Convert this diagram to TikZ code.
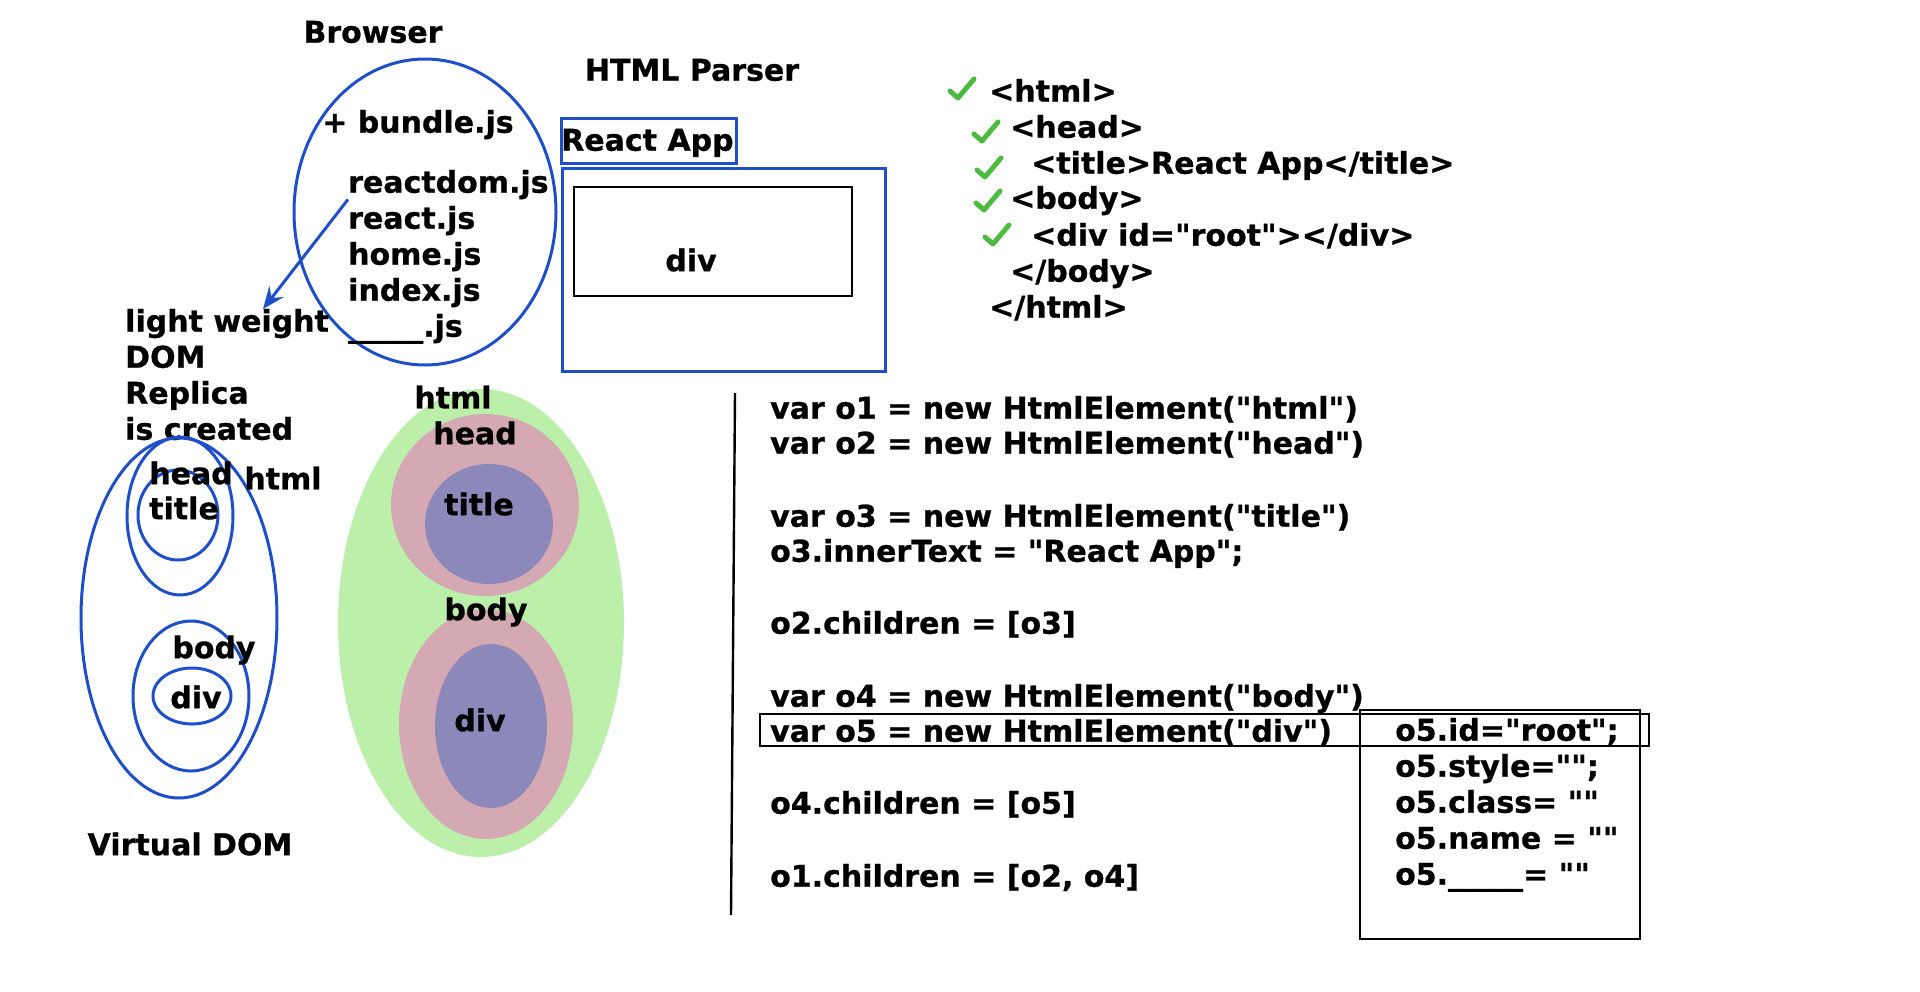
\documentclass[tikz,border=0pt]{standalone}
\usepackage{fontspec}
\setmainfont{DejaVu Sans}[Ligatures=TeXOff, BoldFeatures={FakeBold=0.8}]
\usetikzlibrary{positioning,arrows.meta}

\definecolor{penblue}{RGB}{30,78,200}
\definecolor{tickgreen}{RGB}{76,187,63}
\definecolor{leafgreen}{RGB}{187,239,170}
\definecolor{rosepink}{RGB}{212,169,179}
\definecolor{lavender}{RGB}{140,137,186}

\tikzset{
  lbl/.style={font=\fontsize{30}{36}\selectfont\bfseries, inner sep=0pt},
  pen/.style={draw=penblue, line width=3pt},
  ink/.style={draw=black, line width=2.8pt},
  okmark/.pic={\draw[tickgreen, line width=5pt, line cap=round, line join=round]
    (-12,3) -- (-4,10) -- (12,-9);},
}

\begin{document}
\begin{tikzpicture}[x=1pt, y=-1pt]
  \useasboundingbox (0,0) rectangle (1920,991);

  % browser and bundle
  \node[lbl] (browser) at (373,32) {Browser};
  \draw[pen] (425,212) ellipse [x radius=131, y radius=153];
  \node[lbl, anchor=mid west] (bundle) at (322,130) {+ bundle.js};
  \foreach \t [count=\i] in {reactdom.js, react.js, home.js, index.js, \_\_\_\_\_.js}
    \node[lbl, anchor=mid west] (js\i) at (348,154+36*\i) {\t};

  \foreach \t [count=\i] in {light weight, DOM, Replica, is created}
    \node[lbl, anchor=mid west] (lw\i) at (125,293+36*\i) {\t};
  \coordinate (lwtip) at (263,309);
  \draw[pen, -{Stealth[length=22pt, width=18pt, inset=8pt]}] (js1.south west) -- (lwtip);

  % html parser
  \node[lbl] (parser) at (692,70) {HTML Parser};
  \draw[pen] (561,118) rectangle (736,163);
  \node[lbl, anchor=mid west] (tab) at (561,148) {React App};
  \draw[pen] (562,168) rectangle (885,371);
  \draw[ink] (574,187) rectangle (852,296);
  \node[lbl] (pagediv) at (691,260) {div};

  % markup
  \foreach \y/\d/\t [count=\i] in {99/0/{<html>}, 135/1/{<head>},
      171/2/{<title>React App</title>}, 206/1/{<body>},
      243/2/{<div id="root"></div>}, 279/1/{</body>}, 315/0/{</html>}}
    \node[lbl, anchor=mid west] (tag\i) at (989+21*\d,\y) {\t};
  \foreach \x/\y in {962/88, 986/131, 989/167, 988/200, 997/234}
    \pic at (\x,\y) {okmark};

  % virtual dom
  \draw[pen] (179,618) ellipse [x radius=98, y radius=180];
  \draw[pen] (180,516) ellipse [x radius=53, y radius=79];
  \draw[pen] (178,515) ellipse [x radius=40, y radius=45];
  \draw[pen] (191,696) ellipse [x radius=58, y radius=75];
  \draw[pen] (192,696) ellipse [x radius=39, y radius=28];
  \node[lbl] (vhead) at (191,473) {head};
  \node[lbl] (vhtml) at (283,478) {html};
  \node[lbl] (vtitle) at (184,508) {title};
  \node[lbl] (vbody) at (214,650) {body};
  \node[lbl] (vdiv) at (196,697) {div};
  \node[lbl] (vdom) at (190,844) {Virtual DOM};

  % real dom
  \fill[leafgreen] (481,623) ellipse [x radius=143, y radius=234];
  \fill[rosepink] (485,505) ellipse [x radius=94, y radius=91];
  \fill[lavender] (489,524) ellipse [x radius=64, y radius=60];
  \fill[rosepink] (486,724) ellipse [x radius=87, y radius=115];
  \fill[lavender] (491,726) ellipse [x radius=56, y radius=82];
  \node[lbl] (rhtml) at (453,397) {html};
  \node[lbl] (rhead) at (475,433) {head};
  \node[lbl] (rtitle) at (479,504) {title};
  \node[lbl] (rbody) at (486,612) {body};
  \node[lbl] (rdiv) at (480,720) {div};

  % code
  \draw[black, line width=2.4pt] (735,393) -- (731,915);
  \foreach \y/\t [count=\i] in {416/{var o1 = new HtmlElement("html")},
      451/{var o2 = new HtmlElement("head")},
      524/{var o3 = new HtmlElement("title")},
      559/{o3.innerText = "React App";},
      631/{o2.children = [o3]},
      704/{var o4 = new HtmlElement("body")},
      739/{var o5 = new HtmlElement("div")},
      811/{o4.children = [o5]},
      884/{o1.children = [o2, o4]}}
    \node[lbl, anchor=mid west] (code\i) at (770,\y) {\t};
  \draw[ink, line width=2.4pt] (760,714) rectangle (1649,746);
  \draw[ink, line width=2.4pt] (1360,710) rectangle (1640,939);
  \foreach \t [count=\i] in {o5.id="root";, o5.style="";, o5.class= "",
      o5.name = "", o5.\_\_\_\_\_= ""}
    \node[lbl, anchor=mid west] (prop\i) at (1395,702+36*\i) {\t};
\end{tikzpicture}
\end{document}
